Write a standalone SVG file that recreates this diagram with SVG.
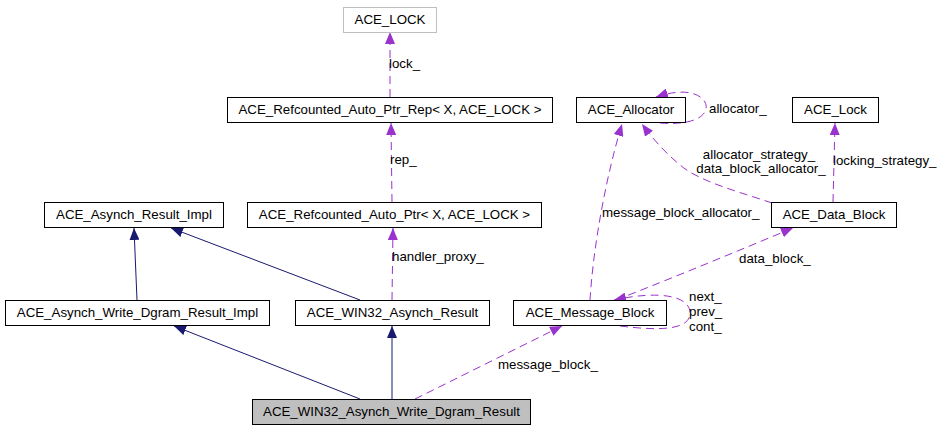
<svg xmlns="http://www.w3.org/2000/svg" width="944" height="429" viewBox="0 0 944 429">
<style>
  text { font-family: "Liberation Sans", Arial, sans-serif; font-size: 13.3px; fill: #000; }
  .n { text-anchor: middle; }
  .box { fill: #fff; stroke: #000; stroke-width: 1; }
  .cur { fill: #bfbfbf; stroke: #000; stroke-width: 1; }
  .ext { fill: #fff; stroke: #bfbfbf; stroke-width: 1; }
  .inh { fill: none; stroke: #191970; stroke-width: 1; marker-end: url(#ab); }
  .use { fill: none; stroke: #9a32cd; stroke-width: 1; stroke-dasharray: 8,5; marker-end: url(#ap); }
</style>
<defs>
  <marker id="ab" viewBox="0 0 12 10" refX="12" refY="5" markerWidth="12" markerHeight="10" markerUnits="userSpaceOnUse" orient="auto">
    <path d="M0,0 L12,5 L0,10 z" fill="#191970"/>
  </marker>
  <marker id="ap" viewBox="0 0 12 10" refX="12" refY="5" markerWidth="12" markerHeight="10" markerUnits="userSpaceOnUse" orient="auto">
    <path d="M0,0 L12,5 L0,10 z" fill="#9a32cd"/>
  </marker>
</defs>
<rect width="944" height="429" fill="#fff"/>
<g id="connectors">
  <path class="inh" d="M137,300 L134,228"/>
  <path class="inh" d="M360,300 L171,228"/>
  <path class="inh" d="M360,399 L174,326"/>
  <path class="inh" d="M392,399 L392,326"/>
  <path class="use" d="M392,300 L393,228"/>
  <path class="use" d="M392,202 L391,123"/>
  <path class="use" d="M390,97 L390,32"/>
  <path class="use" d="M415,399 L562,326"/>
  <path class="use" d="M590,300 C593,250 605,180 622,124"/>
  <path class="use" d="M772,203 C740,192 700,182 680,165 C662,150 650,135 642,124"/>
  <path class="use" d="M833,202 L835,123"/>
  <path class="use" d="M616,300 C680,275 740,250 793,228"/>
  <path class="use" d="M620,326 C660,331 690,330 690,313 C690,296 660,290 614,300"/>
  <path class="use" d="M660,123 C700,126 710,112 705,102 C698,91 680,89 656,97"/>
  <text x="392" y="261">handler_proxy_</text>
  <text x="390" y="164">rep_</text>
  <text x="389" y="68">lock_</text>
  <text x="498" y="369">message_block_</text>
  <text x="602" y="217">message_block_allocator_</text>
  <text x="759" y="159" class="n">allocator_strategy_</text>
  <text x="761" y="173" class="n">data_block_allocator_</text>
  <text x="833" y="165">locking_strategy_</text>
  <text x="739" y="263">data_block_</text>
  <text x="689" y="301">next_</text>
  <text x="689" y="316">prev_</text>
  <text x="689" y="331">cont_</text>
  <text x="709" y="113">allocator_</text>
</g>
<g id="node-win32-write-dgram-result">
  <rect class="cur" x="252.5" y="399.5" width="278" height="25"/>
  <text class="n" x="391.5" y="416">ACE_WIN32_Asynch_Write_Dgram_Result</text>
</g>
<g id="node-write-dgram-result-impl">
  <rect class="box" x="5.5" y="300.5" width="264" height="25"/>
  <text class="n" x="137.5" y="317">ACE_Asynch_Write_Dgram_Result_Impl</text>
</g>
<g id="node-asynch-result-impl">
  <rect class="box" x="44.5" y="202.5" width="179" height="25"/>
  <text class="n" x="134" y="219">ACE_Asynch_Result_Impl</text>
</g>
<g id="node-win32-asynch-result">
  <rect class="box" x="295.5" y="300.5" width="194" height="25"/>
  <text class="n" x="392.5" y="317">ACE_WIN32_Asynch_Result</text>
</g>
<g id="node-refcounted-auto-ptr">
  <rect class="box" x="247.5" y="202.5" width="294" height="25"/>
  <text class="n" x="394.5" y="219">ACE_Refcounted_Auto_Ptr&lt; X, ACE_LOCK &gt;</text>
</g>
<g id="node-refcounted-auto-ptr-rep">
  <rect class="box" x="227.5" y="97.5" width="325" height="25"/>
  <text class="n" x="390" y="114">ACE_Refcounted_Auto_Ptr_Rep&lt; X, ACE_LOCK &gt;</text>
</g>
<g id="node-ace-lock-param">
  <rect class="ext" x="343.5" y="7.5" width="93" height="25"/>
  <text class="n" x="390" y="24">ACE_LOCK</text>
</g>
<g id="node-message-block">
  <rect class="box" x="513.5" y="300.5" width="153" height="25"/>
  <text class="n" x="590" y="317">ACE_Message_Block</text>
</g>
<g id="node-allocator">
  <rect class="box" x="576.5" y="97.5" width="109" height="25"/>
  <text class="n" x="631" y="114">ACE_Allocator</text>
</g>
<g id="node-lock">
  <rect class="box" x="792.5" y="97.5" width="86" height="25"/>
  <text class="n" x="835.5" y="114">ACE_Lock</text>
</g>
<g id="node-data-block">
  <rect class="box" x="771.5" y="202.5" width="125" height="25"/>
  <text class="n" x="834" y="219">ACE_Data_Block</text>
</g>
</svg>
